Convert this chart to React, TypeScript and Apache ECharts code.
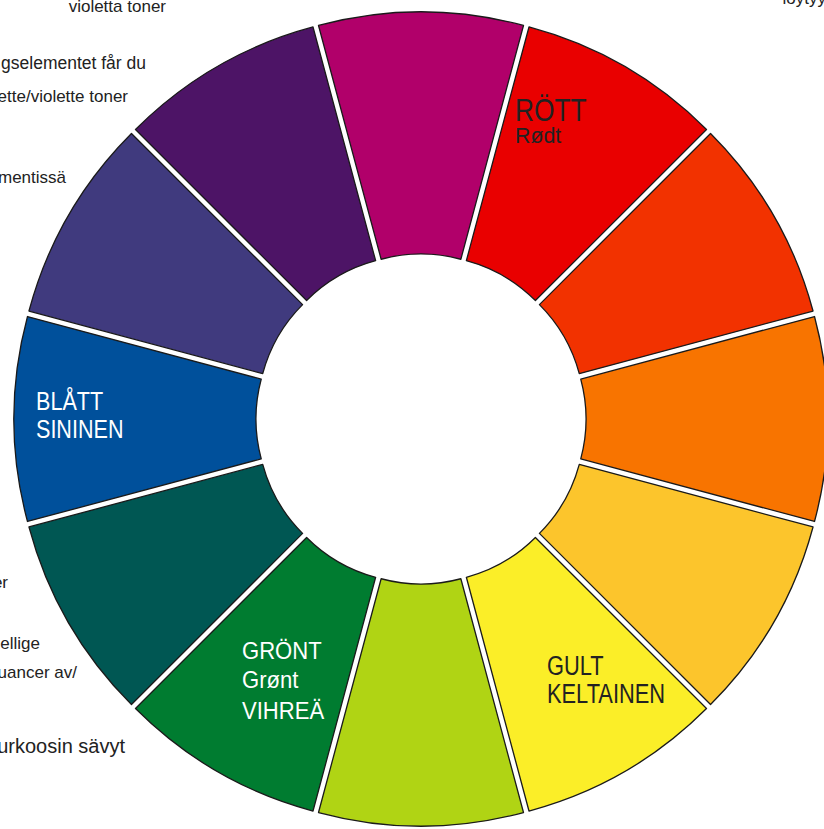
import React, { useEffect, useRef } from "react";
import * as echarts from "echarts";

const segmentNames = [
  "Magenta", "Rött", "Rödorange", "Orange", "Gulorange", "Gult",
  "Gulgrönt", "Grönt", "Turkos", "Blått", "Blåviolett", "Violett",
];
const segmentValues = [1, 1, 1, 1, 1, 1, 1, 1, 1, 1, 1, 1];
const segmentColors = [
  "#B1006A", "#E90000", "#F23200", "#F87400", "#FCC52C", "#FBEE28",
  "#B0D414", "#007C30", "#005753", "#00509B", "#403A7E", "#4D1466",
];

const innerLabels = [
  { lines: ["RÖTT", "Rødt"], sizes: [31, 23], scales: [0.85, 0.93], ys: [110, 135], x: 515, color: "#222" },
  { lines: ["BLÅTT", "SININEN"], sizes: [26, 26], scales: [0.83, 0.83], ys: [401, 429], x: 36, color: "#fff" },
  { lines: ["GRÖNT", "Grønt", "VIHREÄ"], sizes: [24, 24, 24], scales: [0.92, 0.92, 0.92], ys: [651, 680, 711], x: 242, color: "#fff" },
  { lines: ["GULT", "KELTAINEN"], sizes: [28, 28], scales: [0.78, 0.78], ys: [665, 693], x: 547, color: "#222" },
];

const sideTexts = [
  { text: "violetta toner", x: 166, y: 6, size: 17 },
  { text: "gselementet får du", x: 146, y: 63, size: 17.5 },
  { text: "ette/violette toner", x: 128, y: 96, size: 17 },
  { text: "mentissä", x: 66, y: 177, size: 17 },
  { text: "er", x: 8, y: 582, size: 17 },
  { text: "ellige", x: 40, y: 643, size: 17 },
  { text: "uancer av/", x: 77, y: 672, size: 17 },
  { text: "urkoosin sävyt", x: 125, y: 746, size: 20 },
  { text: "löytyy", x: 826, y: -2, size: 17 },
];

export default function App() {
  const ref = useRef<HTMLDivElement>(null);
  useEffect(() => {
    if (!ref.current) return;
    const chart = echarts.init(ref.current, null, { renderer: "svg" });
    const font = "'Liberation Sans', Arial, sans-serif";
    const graphics: any[] = [];
    innerLabels.forEach((l) => {
      l.lines.forEach((line, i) => {
        graphics.push({
          type: "text",
          x: l.x,
          y: l.ys[i],
          scaleX: l.scales[i],
          style: {
            text: line,
            fill: l.color,
            fontSize: l.sizes[i],
            fontFamily: font,
            textAlign: "left",
            textVerticalAlign: "middle",
          },
          z: 10,
        });
      });
    });
    sideTexts.forEach((t) => {
      graphics.push({
        type: "text",
        x: t.x,
        y: t.y,
        style: {
          text: t.text,
          fill: "#222",
          fontSize: t.size,
          fontFamily: font,
          textAlign: "right",
          textVerticalAlign: "middle",
        },
        z: 10,
      });
    });
    chart.setOption({
      animation: false,
      backgroundColor: "#fff",
      graphic: graphics,
      series: [
        {
          type: "pie",
          center: [421, 419],
          radius: [154, 396],
          startAngle: 105,
          clockwise: true,
          selectedMode: "multiple",
          selectedOffset: 11,
          label: { show: false },
          labelLine: { show: false },
          emphasis: { disabled: true },
          itemStyle: { borderColor: "#1a1a1a", borderWidth: 1.3 },
          select: { itemStyle: { borderColor: "#1a1a1a", borderWidth: 1.3 } },
          data: segmentNames.map((n, i) => ({
            name: n,
            value: segmentValues[i],
            selected: true,
            itemStyle: { color: segmentColors[i] },
            select: { itemStyle: { color: segmentColors[i] } },
          })),
        },
      ],
    });
    return () => chart.dispose();
  }, []);
  return (
    <div
      ref={ref}
      style={{ position: "absolute", left: 0, top: 0, width: 824, height: 829 }}
    />
  );
}
